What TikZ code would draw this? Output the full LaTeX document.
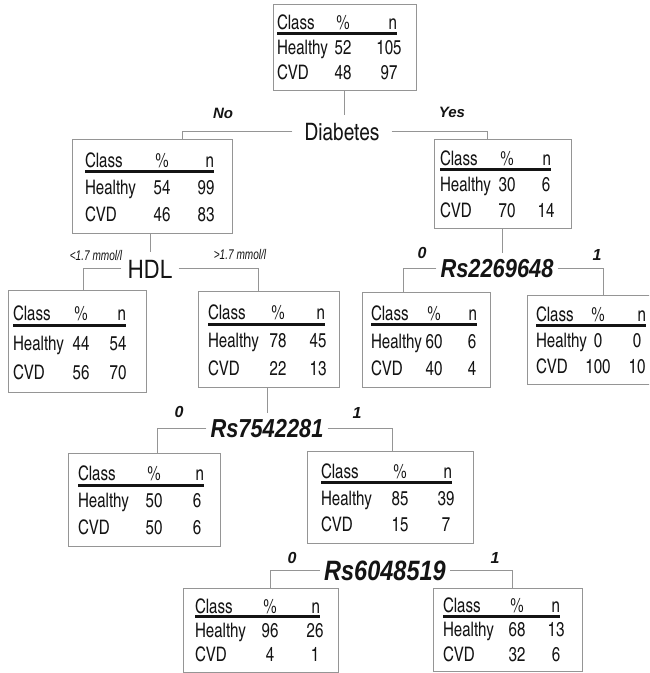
\documentclass[tikz,border=0pt]{standalone}
\usepackage{fontspec}
\setmainfont{Liberation Sans}
\newfontfamily\boxfont{texgyreheroscn}[Extension=.otf, UprightFont=*-regular, BoldFont=*-bold, ItalicFont=*-italic, BoldItalicFont=*-bolditalic, FakeStretch=0.92]
\newfontfamily\diabfont{texgyreheroscn}[Extension=.otf, UprightFont=*-regular, BoldFont=*-bold, ItalicFont=*-italic, BoldItalicFont=*-bolditalic, FakeStretch=0.97]
\newfontfamily\hdlfont{texgyreheros}[Extension=.otf, UprightFont=*-regular, BoldFont=*-bold, ItalicFont=*-italic, BoldItalicFont=*-bolditalic, FakeStretch=0.9]
\newfontfamily\rsfont[FakeStretch=0.84]{Liberation Sans}
\newfontfamily\mmfont[FakeStretch=0.72]{Liberation Sans}
\usetikzlibrary{calc}
\definecolor{ink}{HTML}{141414}
\definecolor{linegray}{HTML}{959595}
\tikzset{
  tb/.style={draw=linegray, line width=1pt, inner sep=0pt, outer sep=0pt},
  tx/.style={inner sep=0pt, outer sep=0pt, text=ink, font=\boxfont\fontsize{20}{20}\selectfont},
  ul/.style={line width=3pt, draw=ink},
  conn/.style={draw=linegray, line width=1pt},
  split/.style={text=ink, inner xsep=4pt, inner ysep=6pt, anchor=base},
  rsst/.style={split, font=\rsfont\bfseries\itshape\fontsize{26}{26}\selectfont},
  edgelab/.style={text=ink, inner sep=1pt, font=\bfseries\itshape\fontsize{15}{15}\selectfont},
  diglab/.style={text=ink, inner sep=1pt, font=\bfseries\itshape\fontsize{16}{16}\selectfont},
  mmlab/.style={text=ink, inner sep=1pt, font=\mmfont\itshape\fontsize{14}{14}\selectfont},
}
\newcommand\tbox[5]{%
  \def\curname{#1}%
  \pgfmathsetmacro\bW{#4-#2}\pgfmathsetmacro\bH{#5-#3}%
  \node[tb, minimum width=\bW pt, minimum height=\bH pt, anchor=north west] (#1) at (#2,#3) {};
  \pgfmathsetmacro\yA{#3+0.30*\bH}%
  \pgfmathsetmacro\yU{#3+0.345*\bH}%
  \pgfmathsetmacro\yB{#3+0.59*\bH}%
  \pgfmathsetmacro\yC{#3+0.88*\bH}%
}
\newcommand\tcols[8]{%
  \node[tx, anchor=base west] (\curname-c) at (#1,\yA) {Class};
  \node[tx, anchor=base] (\curname-p) at (#2,\yA) {\%};
  \node[tx, anchor=base east] (\curname-n) at (#4,\yA) {n};
  \draw[ul] (#1,\yU) -- (#4,\yU);
  \node[tx, anchor=base west] (\curname-h) at (#1,\yB) {Healthy};
  \node[tx, anchor=base west] (\curname-v) at (#1,\yC) {CVD};
  \node[tx, anchor=base] (\curname-hp) at (#2,\yB) {#5};
  \node[tx, anchor=base] (\curname-hn) at (#3,\yB) {#6};
  \node[tx, anchor=base] (\curname-vp) at (#2,\yC) {#7};
  \node[tx, anchor=base] (\curname-vn) at (#3,\yC) {#8};
}
\begin{document}
\begin{tikzpicture}[x=1pt,y=-1pt]
\clip (0,0) rectangle (649,673);
\fill[white] (0,0) rectangle (649,673);

\tbox{n1}{273}{4}{416}{90}\tcols{277}{343}{389}{397}{52}{105}{48}{97}
\tbox{n2}{72}{139}{232}{233}\tcols{85}{162}{206}{214}{54}{99}{46}{83}
\tbox{n3}{434}{139}{571}{228}\tcols{440}{507}{546}{551}{30}{6}{70}{14}
\tbox{n4}{8}{290}{146}{392}\tcols{13}{81}{118}{126}{44}{54}{56}{70}
\tbox{n5}{198}{291}{339}{387}\tcols{208}{278}{318}{325}{78}{45}{22}{13}
\tbox{n6}{362}{292}{490}{387}\tcols{371}{434}{472}{477}{60}{6}{40}{4}
\tbox{n7}{527}{295}{665}{384}\tcols{536}{598}{637}{646}{0}{0}{100}{10}
\tbox{n8}{68}{453}{220}{546}\tcols{78}{154}{197}{204}{50}{6}{50}{6}
\tbox{n9}{307}{451}{473}{543}\tcols{321}{400}{446}{452}{85}{39}{15}{7}
\tbox{n10}{183}{588}{338}{672}\tcols{195}{270}{315}{320}{96}{26}{4}{1}
\tbox{n11}{433}{588}{582}{671}\tcols{443}{517}{556}{560}{68}{13}{32}{6}

% split labels
\node[split, font=\diabfont\fontsize{24}{24}\selectfont, inner xsep=12pt, inner ysep=8pt] (diab) at (342,140) {Diabetes};
\node[split, font=\hdlfont\fontsize{25}{25}\selectfont, inner xsep=6pt, inner ysep=8pt] (hdl) at (150,278) {HDL};
\node[rsst] (rs1) at (497,277) {Rs2269648};
\node[rsst] (rs2) at (267,437) {Rs7542281};
\node[rsst, font=\rsfont\bfseries\itshape\fontsize{28}{28}\selectfont] (rs3) at (385,580) {Rs6048519};

% connectors
\draw[conn] (n1.south) -- (n1.south |- diab.north);
\draw[conn] (diab.west) -| ($(n2.north west)+(110,0)$);
\draw[conn] (diab.east) -| ($(n3.north west)+(53,0)$);
\draw[conn] (hdl.north |- n2.south) -- (hdl.north);
\draw[conn] (hdl.west) -| ($(n4.north west)+(75,0)$);
\draw[conn] (hdl.east) -| ($(n5.north west)+(60,0)$);
\draw[conn] (n3.south) -- (n3.south |- rs1.north);
\draw[conn] (rs1.west) -| ($(n6.north west)+(41,0)$);
\draw[conn] (rs1.east) -| ($(n7.north west)+(76,0)$);
\draw[conn] (rs2.north |- n5.south) -- (rs2.north);
\draw[conn] (rs2.west) -| ($(n8.north west)+(89,0)$);
\draw[conn] (rs2.east) -| ($(n9.north west)+(85,0)$);
\draw[conn] (rs3.west) -| ($(n10.north west)+(87,0)$);
\draw[conn] (rs3.east) -| ($(n11.north west)+(79,0)$);

% branch labels
\node[edgelab] (lno) at (223,113) {No};
\node[edgelab] (lyes) at (452,112) {Yes};
\node[mmlab] (llt) at (96,255) {<1.7 mmol/l};
\node[mmlab] (lgt) at (240,254) {>1.7 mmol/l};
\node[diglab] (l0a) at (422,253) {0};
\node[diglab] (l1a) at (597,255) {1};
\node[diglab] (l0b) at (179,412) {0};
\node[diglab] (l1b) at (357,413) {1};
\node[diglab] (l0c) at (292,558) {0};
\node[diglab] (l1c) at (495,558) {1};
\end{tikzpicture}
\end{document}
